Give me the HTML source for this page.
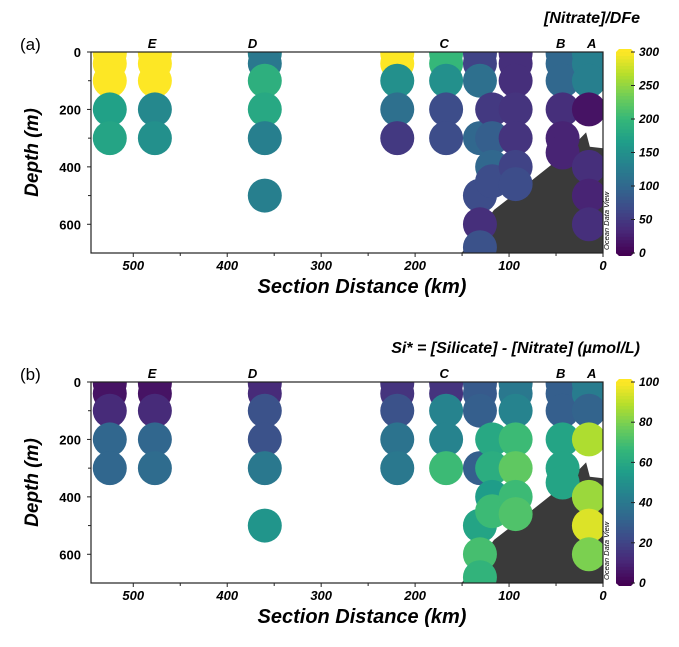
<!DOCTYPE html>
<html><head><meta charset="utf-8"><style>
html,body{margin:0;padding:0;background:#fff;}
svg{display:block;font-family:"Liberation Sans",Arial,sans-serif;}
</style></head><body>
<svg id="fig" width="679" height="647" viewBox="0 0 679 647"></svg>
<script>
// ---- data ----
const stationKm = [525,477,360,219,167,131,118,93,43,15];
const stationLetters = ['E','D','C','B','A'];
const letterKm = [480,373,169,45,12];
const sampleStation = [0,0,0,0,0, 1,1,1,1,1, 2,2,2,2,2,2, 3,3,3,3,3, 4,4,4,4,4, 5,5,5,5,5,5,5, 6,6,6,6, 7,7,7,7,7,7,7, 8,8,8,8,8,8, 9,9,9,9,9,9,9];
const sampleDepth = [5,40,100,200,300, 5,40,100,200,300, 5,40,100,200,300,500, 5,40,100,200,300, 5,40,100,200,300, 5,40,100,300,500,600,680, 200,300,400,450, 5,40,100,200,300,400,460, 5,40,100,200,300,350, 5,40,100,200,400,500,600];
const nitrateDFe = [300,300,300,170,175, 300,300,300,140,150, 130,120,190,180,130,130, 300,300,150,110,50, 200,200,150,70,70, 60,60,110,100,70,40,75, 50,90,100,70, 40,40,40,45,45,60,70, 100,100,100,40,30,30, 130,130,130,15,40,30,40];
const siStar = [5,5,12,33,33, 5,5,12,33,35, 12,12,25,25,40,52, 15,15,25,38,40, 15,15,45,45,68, 28,28,30,30,58,70,65, 60,62,55,68, 40,40,45,68,75,68,72, 30,30,30,58,58,58, 42,42,32,88,85,95,80];
const aTicks = [0,50,100,150,200,250,300];
const bTicks = [0,20,40,60,80,100];
const xTicks = [500,400,300,200,100,0];
const yTicks = [0,200,400,600];
const topoKm = [545,160,150,116,75,48,27,18,14,0,0];
const topoDepth = [700,700,698,550,445,375,310,280,330,335,700];

// ---- helpers ----
const NS='http://www.w3.org/2000/svg';
const svg=document.getElementById('fig');
function mk(tag,attrs,parent){const e=document.createElementNS(NS,tag);for(const k in attrs)e.setAttribute(k,attrs[k]);(parent||svg).appendChild(e);return e;}
const vir=[[68,1,84],[72,40,120],[62,74,137],[49,104,142],[38,130,142],[31,158,137],[53,183,121],[109,205,89],[180,222,44],[253,231,37]];
function viridis(t){t=Math.max(0,Math.min(1,t));const p=t*(vir.length-1);const i=Math.min(vir.length-2,Math.floor(p));const f=p-i;const c=vir[i].map((v,k)=>Math.round(v+(vir[i+1][k]-v)*f));return `rgb(${c[0]},${c[1]},${c[2]})`;}
const L=91,R=603,KMAX=545,DMAX=700;
function xs(km){return R-(km/KMAX)*(R-L);}

function panel(oy,values,vmax,ticks,tag,title,id){
  const T=52+oy,B=253+oy;
  const ys=d=>T+(d/DMAX)*(B-T);
  const g=mk('g',{});
  
  
  const cid='clip'+id;
  const cp=mk('clipPath',{id:cid},g);mk('rect',{x:L,y:T,width:R-L,height:B-T},cp);
  const pts=topoKm.map((k,i)=>xs(k)+','+ys(topoDepth[i])).join(' ');
  const topo=mk('polygon',{points:pts,fill:'#3a3a3a','clip-path':`url(#${cid})`},g);
  
  
  const dg=mk('g',{'clip-path':`url(#${cid})`},g);
  for(let i=0;i<sampleStation.length;i++){
    const c=mk('circle',{cx:xs(stationKm[sampleStation[i]]),cy:ys(sampleDepth[i]),r:17,fill:viridis(values[i]/vmax)},dg);
    
    
  }
  mk('rect',{x:L,y:T,width:R-L,height:B-T,fill:'none',stroke:'#222','stroke-width':1.2},g);
  xTicks.forEach(v=>{const x=xs(v);mk('line',{x1:x,x2:x,y1:B,y2:B+4,stroke:'#222'},g);
    const t=mk('text',{x:x,y:B+17,'text-anchor':'middle','font-size':13,'font-weight':'bold','font-style':'italic'},g);t.textContent=v;
    
    });
  for(let v=50;v<KMAX;v+=100){const x=xs(v);mk('line',{x1:x,x2:x,y1:B,y2:B+3,stroke:'#222'},g);}
  yTicks.forEach(v=>{const y=ys(v);mk('line',{x1:L-4,x2:L,y1:y,y2:y,stroke:'#222'},g);
    const t=mk('text',{x:L-10,y:y+5,'text-anchor':'end','font-size':13,'font-weight':'bold'},g);t.textContent=v;
    
    });
  [100,300,500].forEach(v=>{const y=ys(v);mk('line',{x1:L-3,x2:L,y1:y,y2:y,stroke:'#222'},g);});
  stationLetters.forEach((s,i)=>{const t=mk('text',{x:xs(letterKm[i]),y:T-4,'text-anchor':'middle','font-size':13,'font-weight':'bold','font-style':'italic'},g);t.textContent=s;
    
    });
  const xt=mk('text',{x:362,y:B+40,'text-anchor':'middle','font-size':20,'font-weight':'bold','font-style':'italic'},g);xt.textContent='Section Distance (km)';
  
  
  const yt=mk('text',{x:0,y:0,transform:`translate(38,${(T+B)/2}) rotate(-90)`,'text-anchor':'middle','font-size':19,'font-weight':'bold','font-style':'italic'},g);yt.textContent='Depth (m)';
  
  
  const tg=mk('text',{x:20,y:oy+50,'font-size':17},g);tg.textContent=tag;
  
  
  const tt=mk('text',{x:640,y:T-29,'text-anchor':'end','font-size':16,'font-weight':'bold','font-style':'italic'},g);tt.textContent=title;
  
  
  // colorbar
  const cx0=616,cx1=634;
  const cb=mk('g',{},g);
  
  
  const n=60;
  for(let i=0;i<n;i++){const y=B-(i+1)*(B-T)/n;mk('rect',{x:cx0,y:y,width:cx1-cx0,height:(B-T)/n+0.6,fill:viridis((i+0.5)/n)},cb);}
  mk('polygon',{points:`${cx0},${T} ${cx1},${T} ${cx1-3},${T-3} ${cx0+3},${T-3}`,fill:viridis(1)},cb);
  mk('polygon',{points:`${cx0},${B} ${cx1},${B} ${cx1-3},${B+3} ${cx0+3},${B+3}`,fill:viridis(0)},cb);
  ticks.forEach(v=>{const y=B-(v/vmax)*(B-T);mk('line',{x1:cx1-3,x2:cx1+1,y1:y,y2:y,stroke:'#222'},cb);
    const t=mk('text',{x:cx1+5,y:y+4,'font-size':12,'font-weight':'bold','font-style':'italic'},cb);t.textContent=v;
    
    });
  const od=mk('text',{x:0,y:0,transform:`translate(609,${B-3}) rotate(-90)`,'font-size':7.5,'font-style':'italic'},g);od.textContent='Ocean Data View';
  
  
}
panel(0,nitrateDFe,300,aTicks,'(a)','[Nitrate]/DFe','a');
panel(330,siStar,100,bTicks,'(b)','Si* = [Silicate] - [Nitrate] (µmol/L)','b');
</script>
</body></html>
